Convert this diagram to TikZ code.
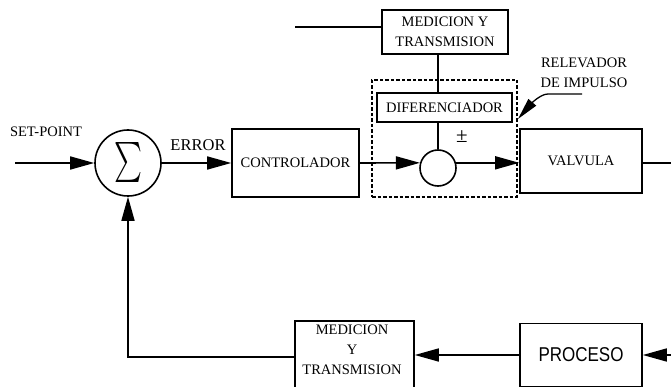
\documentclass[tikz,border=0pt]{standalone}
\usepackage{fontspec}
\setmainfont{Liberation Serif}
\newfontfamily\procfont{Liberation Sans}
\usetikzlibrary{arrows.meta}
\begin{document}
\begin{tikzpicture}[x=1pt,y=-1pt,
  lw/.style={line width=1.6pt},
  blk/.style={draw,line width=1.6pt,rectangle,inner sep=0pt,align=center,font=\fontsize{14.5}{20}\selectfont},
  arr/.style={line width=1.6pt,-{Triangle[length=24pt,width=13pt]}},
  lbl/.style={inner sep=0pt,align=center,font=\fontsize{14.5}{20}\selectfont}]
\clip (0,0) rectangle (671,387);
% blocks
\node[blk,minimum width=127pt,minimum height=68pt] (ctrl) at (295.5,163) {CONTROLADOR};
\node[blk,minimum width=122pt,minimum height=64pt] (valv) at (581,161) {VALVULA};
\node[blk,minimum width=135pt,minimum height=29pt] (dif) at (444.5,107.5) {DIFERENCIADOR};
\node[blk,minimum width=126pt,minimum height=44pt] (mt1) at (445,32) {MEDICION Y\\TRANSMISION};
\node[draw,line width=1.4pt,dash pattern=on 3.5pt off 2pt,minimum width=145pt,minimum height=117pt,inner sep=0pt] (dbox) at (444.5,138.5) {};
\node[draw,circle,line width=1.6pt,minimum size=36pt,inner sep=0pt] (sc) at (438,168) {};
\node[draw,circle,line width=1.6pt,minimum size=66pt,inner sep=0pt] (sum) at (128,163) {\resizebox*{28pt}{40pt}{$\sum$}};
\node[blk,minimum width=119pt,minimum height=72pt] (mt2) at (354.5,357) {};
\node[lbl] (mt2t) at (352,350) {MEDICION\\Y\\TRANSMISION};
\node[blk,minimum width=122pt,minimum height=63pt,font=\procfont\fontsize{20}{22}\selectfont] (proc) at (581,355) {\scalebox{0.85}[1]{PROCESO}};
% labels
\node[lbl] (sp) at (46,132) {SET-POINT};
\node[lbl,font=\fontsize{16.5}{20}\selectfont] (err) at (198,145) {ERROR};
\node[lbl,font=\fontsize{21}{22}\selectfont] (pm) at (462,137) {±};
\node[lbl] (rel) at (584,73) {RELEVADOR\\DE IMPULSO};
% free ends
\coordinate (spin) at (15,163);
\coordinate (mtin) at (295,27);
\coordinate (out) at (671,163);
\coordinate (pin) at (671,355);
\coordinate (relA) at (582,94);
\coordinate (relB) at (518,119);
% connectors
\draw[arr] (spin) -- (sum.west);
\draw[arr] (sum.east) -- (ctrl.west);
\draw[arr] (ctrl.east) -- (sc.164);
\draw[arr] (sc.16) -- (sc.16 -| valv.west);
\draw[lw] (valv.east |- out) -- (out);
\draw[lw] (mtin) -- (mtin -| mt1.west);
\draw[lw] (mt1.south -| sc.north) -- (dif.north -| sc.north);
\draw[lw] (dif.south -| sc.north) -- (sc.north);
\draw[arr] (mt2.west) -| (sum.south);
\draw[arr] (proc.west) -- (proc.west -| mt2.east);
\draw[arr] (pin) -- (proc.east);
\draw[line width=1.3pt,-{Triangle[length=22pt,width=10pt]}] (relA) -- ++(-34,0) .. controls +(-8,0) and +(12,-14) .. (relB);
\end{tikzpicture}
\end{document}
